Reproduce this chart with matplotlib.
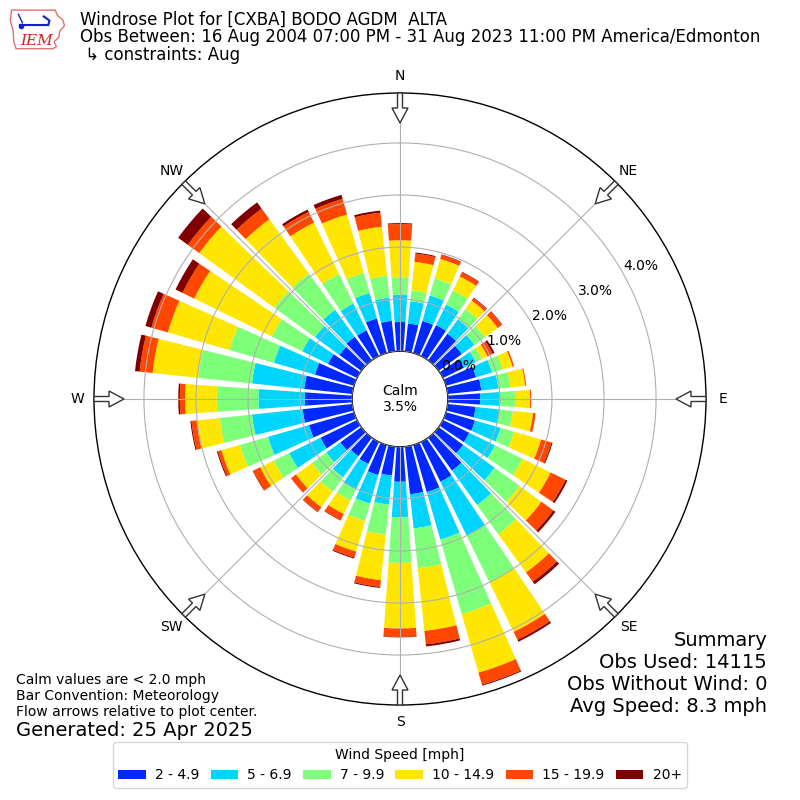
import numpy as np
import matplotlib.pyplot as plt
from matplotlib.patches import FancyArrow, Patch, Polygon

# direction of the bars (degrees, meteorological)
directions = np.arange(0, 360, 10)
speed_bins = ['2 - 4.9', '5 - 6.9', '7 - 9.9', '10 - 14.9', '15 - 19.9', '20+']

# cumulative frequency [%] at the outer edge of each speed bin
cum_2 = [0.56, 0.54, 0.64, 0.66, 0.63, 0.55, 0.45, 0.60, 0.65, 0.62, 0.54, 0.58,
         0.56, 0.58, 0.78, 0.85, 0.94, 0.92, 0.67, 0.56, 0.60, 0.47, 0.44, 0.50,
         0.78, 0.90, 0.96, 0.91, 0.93, 0.78, 0.62, 0.52, 0.56, 0.55, 0.69, 0.59]
cum_5 = [1.08, 0.97, 1.15, 1.10, 0.97, 0.85, 0.70, 0.92, 0.98, 1.00, 1.00, 1.09,
         1.11, 1.33, 1.60, 2.00, 1.89, 1.58, 1.35, 1.12, 1.17, 1.02, 0.94, 0.83,
         1.45, 1.72, 1.94, 1.80, 1.94, 1.60, 1.17, 1.10, 1.20, 1.12, 1.20, 1.04]
cum_7 = [1.42, 1.18, 1.49, 1.40, 1.22, 1.10, 0.83, 1.13, 1.21, 1.29, 1.26, 1.36,
         1.70, 1.92, 2.29, 3.00, 3.38, 2.35, 2.23, 1.70, 1.52, 1.25, 1.28, 1.17,
         1.78, 2.28, 2.56, 2.60, 2.98, 2.49, 1.82, 2.06, 2.06, 1.75, 1.60, 1.46]
cum_10 = [2.13, 1.73, 1.88, 1.70, 1.42, 1.40, 0.95, 1.33, 1.50, 1.58, 1.65, 1.90,
          2.30, 2.44, 3.20, 4.06, 4.55, 3.56, 3.49, 2.58, 2.13, 1.54, 1.65, 1.55,
          2.07, 2.65, 3.01, 3.21, 3.86, 3.72, 3.48, 3.85, 3.35, 2.85, 2.77, 2.41]
cum_15 = [2.44, 1.89, 1.96, 1.79, 1.48, 1.50, 1.06, 1.36, 1.52, 1.60, 1.70, 2.11,
          2.62, 2.72, 3.42, 4.23, 4.79, 3.82, 3.65, 2.71, 2.25, 1.67, 1.76, 1.67,
          2.22, 2.72, 3.11, 3.31, 4.11, 4.05, 3.73, 4.12, 3.60, 3.08, 3.08, 2.68]
cum_20 = [2.46, 1.91, 1.97, 1.80, 1.49, 1.51, 1.10, 1.36, 1.52, 1.60, 1.70, 2.13,
          2.66, 2.77, 3.48, 4.27, 4.81, 3.86, 3.66, 2.73, 2.27, 1.68, 1.77, 1.67,
          2.23, 2.74, 3.13, 3.34, 4.20, 4.17, 3.88, 4.35, 3.75, 3.13, 3.16, 2.72]

calm_pct = 3.5
rings = [0, 1, 2, 3, 4]
compass = ['N', 'NE', 'E', 'SE', 'S', 'SW', 'W', 'NW']

colors = plt.cm.jet(np.arange(1, 7) / 6.0)

fig = plt.figure(figsize=(8, 8), dpi=100)
ax = fig.add_axes([0.1175, 0.11875, 0.765, 0.765], projection='polar')
ax.set_theta_zero_location('N')
ax.set_theta_direction(-1)
ax.set_rorigin(-0.92)
ax.set_ylim(0, 4.96)

theta = np.deg2rad(directions)
width = np.deg2rad(8.0)
cums = [np.zeros(36), cum_2, cum_5, cum_7, cum_10, cum_15, cum_20]
for i in range(6):
    lo = np.asarray(cums[i])
    hi = np.asarray(cums[i + 1])
    ax.bar(theta, hi - lo, width=width, bottom=lo, color=colors[i],
           edgecolor='none', linewidth=0, zorder=1)

ax.set_thetagrids(np.arange(0, 360, 45), labels=[])
ax.set_rgrids(rings, labels=[])
ax.grid(True, color='#b0b0b0', lw=0.8)
ax.set_axisbelow(False)
ax.spines['polar'].set_linewidth(1.0)
ax.spines['inner'].set_linewidth(1.0)

# radial labels
for r in rings:
    ax.text(np.deg2rad(61), r + 0.37, '%.1f%%' % r, ha='center', va='center',
            fontsize=10, zorder=5)

ax.text(0.5, 0.5, 'Calm\n%.1f%%' % calm_pct, transform=ax.transAxes,
        ha='center', va='center', fontsize=10, zorder=6)

# compass labels and flow arrows
for k, lab in enumerate(compass):
    ang = np.deg2rad(45 * k)
    s, c = np.sin(ang), np.cos(ang)
    rl = 323 / 612.0
    ax.text(0.5 + rl * s, 0.5 + rl * c, lab, transform=ax.transAxes,
            ha='center', va='center', fontsize=10)
    L = 30 / 612.0
    arr = FancyArrow(0.5 + 0.5 * s, 0.5 + 0.5 * c, -L * s, -L * c,
                     width=5 / 612.0, head_width=16 / 612.0,
                     head_length=15 / 612.0, length_includes_head=True,
                     transform=ax.transAxes, fc='white', ec='#333333',
                     lw=1.0, clip_on=False, zorder=7)
    ax.add_artist(arr)

# header
fig.text(0.1, 0.975, 'Windrose Plot for [CXBA] BODO AGDM  ALTA',
         fontsize=12, va='center')
fig.text(0.1, 0.954, 'Obs Between: 16 Aug 2004 07:00 PM - 31 Aug 2023 11:00 PM America/Edmonton',
         fontsize=12, va='center')
fig.text(0.1, 0.931, ' \u21b3 constraints: Aug', fontsize=12, va='center')

# IEM logo (rough)
lax = fig.add_axes([0.01, 0.9375, 0.072, 0.0525])
lax.set_xlim(0, 1)
lax.set_ylim(0, 1)
lax.axis('off')
iowa = [(0.06, 0.95), (0.82, 0.95), (0.86, 0.82), (0.95, 0.72), (0.98, 0.58),
        (0.9, 0.45), (0.88, 0.3), (0.8, 0.2), (0.84, 0.08), (0.78, 0.03),
        (0.14, 0.03), (0.1, 0.2), (0.09, 0.45), (0.04, 0.7)]
lax.add_patch(Polygon(iowa, closed=True, fill=False, ec='#e07070', lw=1.0))
lax.plot([0.2, 0.7], [0.6, 0.6], color='#1020d0', lw=1.5)
lax.plot([0.62, 0.72, 0.7], [0.8, 0.7, 0.6], color='#1020d0', lw=1.5)
lax.plot([0.18, 0.25], [0.85, 0.65], color='#1020d0', lw=1.0)
lax.plot([0.22], [0.58], 'o', color='#1020d0', ms=3)
lax.text(0.22, 0.22, 'IEM', color='#d02020', fontsize=11, family='serif',
         style='italic', va='center')

# footer notes
fig.text(0.02, 0.15, 'Calm values are < 2.0 mph', fontsize=10, va='center')
fig.text(0.02, 0.13, 'Bar Convention: Meteorology', fontsize=10, va='center')
fig.text(0.02, 0.11, 'Flow arrows relative to plot center.', fontsize=10, va='center')
fig.text(0.02, 0.0875, 'Generated: 25 Apr 2025', fontsize=14, va='center')

fig.text(0.959, 0.2, 'Summary', fontsize=14, ha='right', va='center')
fig.text(0.959, 0.1725, 'Obs Used: 14115', fontsize=14, ha='right', va='center')
fig.text(0.959, 0.145, 'Obs Without Wind: 0', fontsize=14, ha='right', va='center')
fig.text(0.959, 0.1175, 'Avg Speed: 8.3 mph', fontsize=14, ha='right', va='center')

handles = [Patch(facecolor=colors[i], label=speed_bins[i]) for i in range(6)]
fig.legend(handles=handles, loc='lower center', bbox_to_anchor=(0.5, 0.015),
           borderaxespad=0, ncol=6, title='Wind Speed [mph]', fontsize=10,
           title_fontsize=10, handlelength=2.0, handleheight=0.7,
           handletextpad=0.65, columnspacing=0.8)

fig.savefig('out.png', dpi=100)
